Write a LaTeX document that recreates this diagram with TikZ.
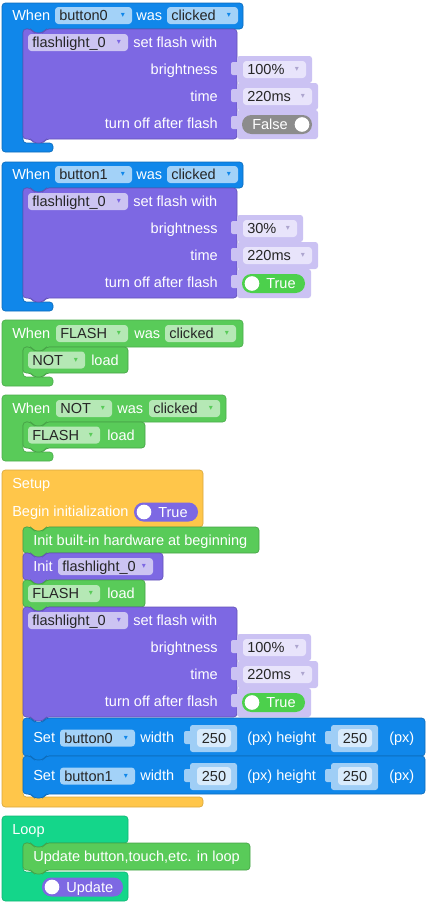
\documentclass[tikz,border=0pt]{standalone}
\usepackage{fontspec}
\setmainfont{Liberation Sans}
\newfontfamily\symfont{DejaVu Sans}
\usetikzlibrary{fit}

\definecolor{evblue}{RGB}{16,135,234}
\definecolor{flpurple}{RGB}{125,104,227}
\definecolor{sockpurple}{RGB}{203,194,243}
\definecolor{fieldpurple}{RGB}{204,196,242}
\definecolor{valpurple}{RGB}{232,228,251}
\definecolor{btgreen}{RGB}{89,203,89}
\definecolor{fieldgreen}{RGB}{181,232,181}
\definecolor{setupyellow}{RGB}{255,198,74}
\definecolor{loopteal}{RGB}{20,214,138}
\definecolor{fieldblue}{RGB}{163,210,248}
\definecolor{sockblue}{RGB}{159,206,246}
\definecolor{valblue}{RGB}{216,235,252}
\definecolor{toggreen}{RGB}{76,208,76}
\definecolor{toggray}{RGB}{140,140,140}

\newcommand{\blockfont}{\fontsize{10.9}{13}\selectfont}

% statement block: notch on top, tab below
\newcommand{\stmtblock}[5]{%
  \filldraw[blockedge, fill=#1, draw=#1!80!black] (#2,#3) -- ({#2+8},#3) -- ({#2+11},{#3+4}) -- ({#2+20},{#3+4}) -- ({#2+23},#3) -- (#4,#3) -- (#4,{#5}) -- ({#2+23},{#5}) -- ({#2+20},{#5+4}) -- ({#2+11},{#5+4}) -- ({#2+8},{#5}) -- (#2,{#5}) -- cycle;}

% value socket with its puzzle tab
\newcommand{\socket}[5]{%
  \fill[#1, rounded corners=2pt] (#2,{#3}) rectangle ({#4},{#5});
  \fill[#1, rounded corners=1.5pt] ({#2-6},{#3+6}) rectangle ({#2+2},{#3+19});}

\newcommand{\dropfield}[7]{%
  \node[fieldbox, fill=#5, fit={(#2,{#4-8.5}) (#3,{#4+8.5})}] (#1) {};
  \node[fieldtext] (#1t) at ({#2+4},{#4+5}) {#7};
  \node[droparrow, text=#6] (#1a) at ({#3-9},{#4}) {▾};}

\newcommand{\valfield}[6]{%
  \node[fieldbox, fill=#5, fit={(#2,{#4-9}) (#3,{#4+9})}] (#1) {};
  \node[fieldtext, anchor=base] (#1t) at ({(#2+#3)/2},{#4+5}) {#6};}

\newcommand{\truepill}[6]{%
  \node[pillbox, fill=#5, fit={(#2,{#4-9.5}) (#3,{#4+9.5})}] (#1) {};
  \node[knob] (#1k) at ({#2+10},{#4}) {};
  \node[lbl] (#1t) at ({#2+24},{#4+5}) {#6};}

\newcommand{\falsepill}[4]{%
  \node[pillbox, fill=toggray, fit={(#2,{#4-9.5}) (#3,{#4+9.5})}] (#1) {};
  \node[knob] (#1k) at ({#3-10},{#4}) {};
  \node[lbl] (#1t) at ({#2+10},{#4+5}) {False};}

% flashlight set flash block
\newcommand{\setflash}[7]{%
  \begin{scope}[shift={(0,#2)}]
    \stmtblock{flpurple}{23}{29}{237}{139}
    \dropfield{#1f}{28}{128}{42.5}{fieldpurple}{flpurple}{flashlight\_0}
    \node[lbl] (#1s) at (133,47.5) {set flash with};
    \node[rlbl] (#1b) at (218,74.5) {brightness};
    \node[rlbl] (#1t) at (218,101.5) {time};
    \node[rlbl] (#1o) at (218,128.5) {turn off after flash};
    \socket{sockpurple}{237}{56}{#4}{83}
    \socket{sockpurple}{237}{83}{318}{110}
    \socket{sockpurple}{237}{110}{#6+6}{139}
    \dropfield{#1bv}{243}{#5}{69.5}{valpurple}{sockpurple!85!black}{#3}
    \dropfield{#1tv}{243}{312}{96.5}{valpurple}{sockpurple!85!black}{220ms}
    \if#7T\truepill{#1tg}{242}{#6}{124.5}{toggreen}{True}\else\falsepill{#1tg}{242}{#6}{124.5}\fi
  \end{scope}}

\begin{document}
\begin{tikzpicture}[x=0.75pt, y=-0.75pt,
    lbl/.style={anchor=base west, inner sep=0, text=white, font=\blockfont},
    rlbl/.style={lbl, anchor=base east},
    fieldtext/.style={anchor=base west, inner sep=0, text=black!85, font=\blockfont},
    droparrow/.style={inner sep=0, font=\symfont\fontsize{6}{6}\selectfont},
    fieldbox/.style={inner sep=0, rounded corners=2.5pt, draw=none},
    pillbox/.style={inner sep=0, rounded corners=7pt, draw=none},
    knob/.style={circle, fill=white, inner sep=0, minimum size=11pt},
    blockedge/.style={line width=0.5pt, rounded corners=2.5pt}
]
    \useasboundingbox (0,0) rectangle (431,908);

    % When button0 / button1 was clicked
    \foreach \i/\dy in {0/0, 1/159} {
        \begin{scope}[shift={(0,\dy)}]
            \filldraw[blockedge, fill=evblue, draw=evblue!80!black] (2,3) -- (243,3) -- (243,29) -- (46,29) -- (43,33) -- (34,33) -- (31,29) -- (23,29) -- (23,143) -- (53,143) -- (53,152) -- (2,152) -- cycle;
            \node[lbl] (when\i) at (12,20.5) {When};
            \dropfield{btn\i}{55}{132}{15.5}{fieldblue}{evblue}{button\i}
            \node[lbl] (was\i) at (136,20.5) {was};
            \dropfield{clk\i}{167}{238}{15.5}{fieldblue}{evblue}{clicked}
        \end{scope}
    }
    \setflash{sfa}{0}{100\%}{312}{306}{312}{F}
    \setflash{sfb}{159}{30\%}{303}{297}{305}{T}

    % When FLASH / NOT was clicked
    \filldraw[blockedge, fill=btgreen, draw=btgreen!85!black] (2,320) -- (243,320) -- (243,347) -- (46,347) -- (43,351) -- (34,351) -- (31,347) -- (23,347) -- (23,377) -- (53,377) -- (53,386) -- (2,386) -- cycle;
    \node[lbl] (when2) at (12,338.5) {When};
    \dropfield{btn2}{56}{128}{333.5}{fieldgreen}{btgreen}{FLASH}
    \node[lbl] (was2) at (134,338.5) {was};
    \dropfield{clk2}{165}{236}{333.5}{fieldgreen}{btgreen}{clicked}
    \stmtblock{btgreen}{23}{347}{128}{373}
    \dropfield{ld2}{28}{85}{360}{fieldgreen}{btgreen}{NOT}
    \node[lbl] (load2) at (91,365) {load};

    \filldraw[blockedge, fill=btgreen, draw=btgreen!85!black] (2,395) -- (226,395) -- (226,422) -- (46,422) -- (43,426) -- (34,426) -- (31,422) -- (23,422) -- (23,452) -- (53,452) -- (53,461) -- (2,461) -- cycle;
    \node[lbl] (when3) at (12,413.5) {When};
    \dropfield{btn3}{56}{112}{408.5}{fieldgreen}{btgreen}{NOT}
    \node[lbl] (was3) at (117,413.5) {was};
    \dropfield{clk3}{149}{220}{408.5}{fieldgreen}{btgreen}{clicked}
    \stmtblock{btgreen}{23}{422}{145}{448}
    \dropfield{ld3}{28}{100}{435}{fieldgreen}{btgreen}{FLASH}
    \node[lbl] (load3) at (107,440) {load};

    % Setup
    \filldraw[blockedge, fill=setupyellow, draw=setupyellow!85!black] (2,470) -- (203,470) -- (203,527) -- (46,527) -- (43,531) -- (34,531) -- (31,527) -- (23,527) -- (23,797) -- (203,797) -- (203,807) -- (2,807) -- cycle;
    \node[lbl] (setup) at (12,488) {Setup};
    \node[lbl] (begin) at (12,516) {Begin initialization};
    \truepill{begtg}{134}{198}{512}{flpurple}{True}

    \stmtblock{btgreen}{23}{527}{259}{553}
    \node[lbl] (inithw) at (33,545) {Init built-in hardware at beginning};
    \stmtblock{flpurple}{23}{553}{163}{580}
    \node[lbl] (init) at (33,571.5) {Init};
    \dropfield{initf}{58}{153}{566.5}{fieldpurple}{flpurple}{flashlight\_0}
    \stmtblock{btgreen}{23}{580}{145}{607}
    \dropfield{ld4}{28}{100}{593.5}{fieldgreen}{btgreen}{FLASH}
    \node[lbl] (load4) at (107,598.5) {load};
    \setflash{sfc}{578}{100\%}{311}{306}{305}{T}

    \foreach \i/\yt in {0/718, 1/756} {
        \stmtblock{evblue}{23}{\yt}{425}{\yt+38}
        \node[lbl] (set\i) at (33,\yt+24) {Set};
        \dropfield{setb\i}{60}{135}{\yt+20}{fieldblue}{evblue}{button\i}
        \node[lbl] (width\i) at (140,\yt+24) {width};
        \socket{sockblue}{190}{\yt+7}{237}{\yt+34}
        \valfield{setw\i}{197}{231}{\yt+20}{valblue}{250}
        \node[lbl] (height\i) at (247,\yt+24) {(px) height};
        \socket{sockblue}{331}{\yt+7}{378}{\yt+34}
        \valfield{seth\i}{338}{372}{\yt+20}{valblue}{250}
        \node[lbl] (px\i) at (389,\yt+24) {(px)};
    }

    % Loop
    \filldraw[blockedge, fill=loopteal, draw=loopteal!85!black] (2,816) -- (128,816) -- (128,843) -- (46,843) -- (43,847) -- (34,847) -- (31,843) -- (23,843) -- (23,872) -- (128,872) -- (128,901) -- (2,901) -- cycle;
    \node[lbl] (loop) at (12,834) {Loop};
    \stmtblock{btgreen}{23}{843}{250}{870}
    \node[lbl] (upd) at (33,861.5) {Update button,touch,etc. in loop};
    \truepill{updtg}{42}{123}{887}{flpurple}{Update}

\end{tikzpicture}
\end{document}
